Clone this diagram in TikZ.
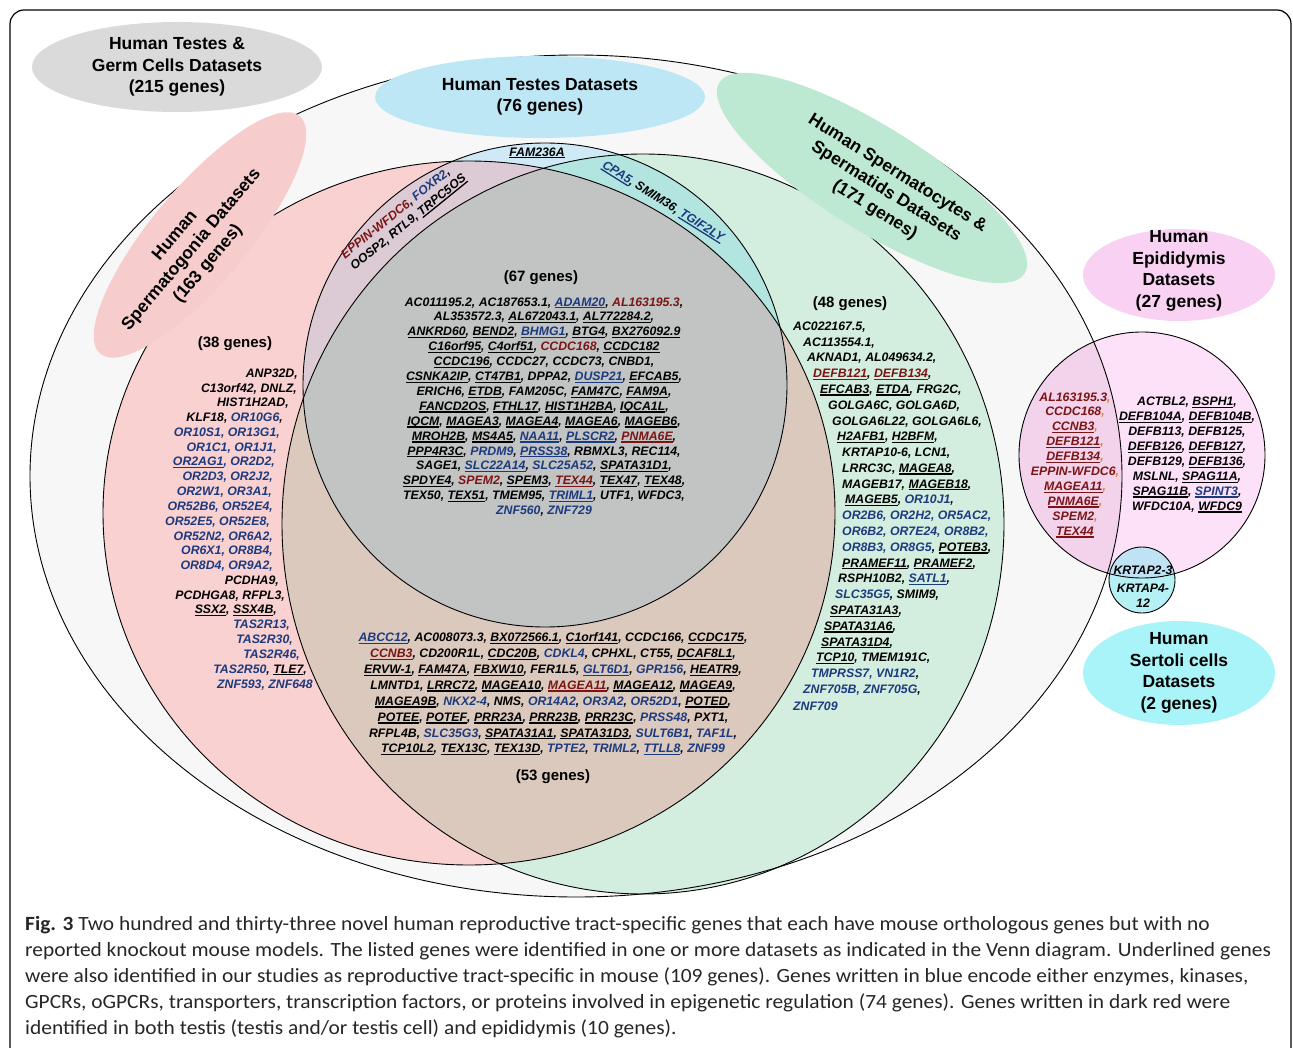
\documentclass[tikz,border=0pt]{standalone}
\usepackage{fontspec}
\setmainfont{Liberation Sans}
\newfontfamily\capfont[FakeStretch=1.06]{Carlito}
\usetikzlibrary{positioning}

\definecolor{genblue}{HTML}{1C3A7E}
\definecolor{genred}{HTML}{7B1414}
\definecolor{comorange}{HTML}{D9821E}
\definecolor{cout}{HTML}{F7F7F7}
\definecolor{cpink}{HTML}{F9D1D1}
\definecolor{cgreen}{HTML}{D3EEDF}
\definecolor{cbrown}{HTML}{DBC9BD}
\definecolor{cblue}{HTML}{CFEAF6}
\definecolor{cpurple}{HTML}{DCCBD5}
\definecolor{cteal}{HTML}{B2E4E0}
\definecolor{cgray}{HTML}{C2C3C3}
\definecolor{lgray}{HTML}{DADADA}
\definecolor{lblue}{HTML}{BEE7F6}
\definecolor{lgreen}{HTML}{BDE9D2}
\definecolor{lpink}{HTML}{F7CCCC}
\definecolor{lepi}{HTML}{F9D2F3}
\definecolor{cepi}{HTML}{FDE1F8}
\definecolor{cepiout}{HTML}{F3D3EC}
\definecolor{cser}{HTML}{B5F0F4}
\definecolor{cserepi}{HTML}{BFE3F4}
\definecolor{lser}{HTML}{A9F4F8}
\definecolor{captext}{HTML}{262626}

\newsavebox\ulbox
\newcommand\gul[1]{\sbox\ulbox{#1}\rlap{\rule[-2.4pt]{\wd\ulbox}{1.3pt}}\usebox\ulbox}
\newcommand\gb[1]{\textcolor{genblue}{#1}}
\newcommand\gr[1]{\textcolor{genred}{#1}}
\newcommand\oc{\textcolor{comorange}{,}}
\newcommand\genefont{\fontsize{12.3}{14.9}\selectfont\bfseries\itshape}
\newcommand\genefontb{\fontsize{12.3}{15.9}\selectfont\bfseries\itshape}
\newcommand\headfont{\fontsize{17.5}{21.5}\selectfont\bfseries}
\newcommand\countfont{\fontsize{15}{18}\selectfont\bfseries}

\begin{document}
\begin{tikzpicture}[x=1pt,y=-1pt,
    gene/.style={font=\genefont, inner sep=0pt, align=center},
    head/.style={font=\headfont, inner sep=0pt, align=center},
    count/.style={font=\countfont, inner sep=0pt},
    vennline/.style={draw=black, line width=0.9pt},
    outerset/.style={insert path={(576,476) ellipse [x radius=546, y radius=421]}},
    pinkset/.style={insert path={(469,513) ellipse [x radius=366, y radius=352]}},
    greenset/.style={insert path={(643,524) ellipse [x radius=361, y radius=370]}},
    blueset/.style={insert path={(545,385) circle [radius=242]}},
    episet/.style={insert path={(1142,455) circle [radius=123]}},
    serset/.style={insert path={(1142,580) circle [radius=33]}}]
  \useasboundingbox (0,0) rectangle (1293,1048);

  % frame
  \draw[line width=1.2pt, rounded corners=14pt] (10,1080) rectangle (1291,10);

  % label ellipse outside the big set
  \fill[lgray] (177,67) ellipse [x radius=145, y radius=45];

  % all reproductive sets
  \fill[cout, outerset];
  \fill[cepi, episet];
  \begin{scope}
    \clip[outerset];
    \fill[cepiout, episet];
  \end{scope}
  \fill[cser, serset];
  \begin{scope}
    \clip[episet];
    \fill[cserepi, serset];
  \end{scope}

  % testis sets
  \fill[cpink, pinkset];
  \fill[cgreen, greenset];
  \begin{scope}
    \clip[pinkset];
    \fill[cbrown, greenset];
  \end{scope}
  \fill[cblue, blueset];
  \begin{scope}
    \clip[blueset];
    \fill[cpurple, pinkset];
    \fill[cteal, greenset];
    \clip[pinkset];
    \fill[cgray, greenset];
  \end{scope}

  % outlines
  \draw[vennline, outerset];
  \draw[vennline, pinkset];
  \draw[vennline, greenset];
  \draw[vennline, blueset];
  \draw[vennline, episet];
  \draw[vennline, serset];

  % label ellipses
  \fill[lblue] (540,97) ellipse [x radius=165, y radius=41];
  \fill[lgreen, rotate around={-32:(872,178)}] (872,178) ellipse [x radius=180, y radius=52];
  \fill[lpink, rotate around={50:(200,235)}] (200,235) ellipse [x radius=155, y radius=48];
  \fill[lepi] (1179,275) ellipse [x radius=96, y radius=46];
  \fill[lser] (1179,673) ellipse [x radius=96, y radius=52];

  % headings
  \node[head] (hgerm) at (177,67) {Human Testes \&\\Germ Cells Datasets\\(215 genes)};
  \node[head] (htestes) at (540,97) {Human Testes Datasets\\(76 genes)};
  \node[head, rotate=-32] (hcyte) at (886,192) {Human Spermatocytes \&\\Spermatids Datasets\\(171 genes)};
  \node[head, rotate=50] (hgonia) at (192,250) {Human\\Spermatogonia Datasets\\(163 genes)};
  \node[head] (hepi) at (1179,271) {Human\\Epididymis\\Datasets\\(27 genes)};
  \node[head] (hser) at (1179,673) {Human\\Sertoli cells\\Datasets\\(2 genes)};

  % gene counts
  \node[count] (n38) at (235,344) {(38 genes)};
  \node[count] (n67) at (541,278) {(67 genes)};
  \node[count] (n48) at (850,304) {(48 genes)};
  \node[count] (n53) at (553,777) {(53 genes)};

  % testes only and two-set strips
  \node[gene] (gfam) at (537,153) {\gul{FAM236A}};
  \node[gene, align=left, rotate=39] (geppin) at (404,217)
    {\gr{EPPIN-WFDC6}, \gb{FOXR2},\\OOSP2, RTL9, \gul{TRPC5OS}};
  \node[gene, rotate=-32] (gcpa) at (663,202)
    {\gb{\gul{CPA5}}, SMIM36, \gb{\gul{TGIF2LY}}};

  % all three testis sets
  \node[gene] (gall) at (544,407) {%
    AC011195.2, AC187653.1, \gb{\gul{ADAM20}}, \gr{AL163195.3},\\
    AL353572.3, \gul{AL672043.1}, \gul{AL772284.2},\\
    \gul{ANKRD60}, \gul{BEND2}, \gb{\gul{BHMG1}}, \gul{BTG4}, \gul{BX276092.9}\\
    \gul{C16orf95}, \gul{C4orf51}, \gr{CCDC168}, \gul{CCDC182}\\
    \gul{CCDC196}, CCDC27, CCDC73, CNBD1,\\
    \gul{CSNKA2IP}, \gul{CT47B1}, DPPA2, \gb{\gul{DUSP21}}, \gul{EFCAB5},\\
    ERICH6, \gul{ETDB}, FAM205C, \gul{FAM47C}, \gul{FAM9A},\\
    \gul{FANCD2OS}, \gul{FTHL17}, \gul{HIST1H2BA}, \gul{IQCA1L},\\
    \gul{IQCM}, \gul{MAGEA3}, \gul{MAGEA4}, \gul{MAGEA6}, \gul{MAGEB6},\\
    \gul{MROH2B}, \gul{MS4A5}, \gb{\gul{NAA11}}, \gb{\gul{PLSCR2}}, \gr{\gul{PNMA6E}},\\
    \gul{PPP4R3C}, \gb{PRDM9}, \gb{\gul{PRSS38}}, RBMXL3, REC114,\\
    SAGE1, \gb{\gul{SLC22A14}}, \gb{SLC25A52}, \gul{SPATA31D1},\\
    \gul{SPDYE4}, \gr{SPEM2}, \gul{SPEM3}, \gr{\gul{TEX44}}, \gul{TEX47}, \gul{TEX48},\\
    TEX50, \gul{TEX51}, TMEM95, \gb{\gul{TRIML1}}, UTF1, WFDC3,\\
    \gb{ZNF560}, \gb{ZNF729}};

  % spermatogonia and spermatocytes
  \node[gene, font=\genefontb] (gboth) at (553,694) {%
    \gb{\gul{ABCC12}}, AC008073.3, \gul{BX072566.1}, \gul{C1orf141}, CCDC166, \gul{CCDC175},\\
    \gr{\gul{CCNB3}}, CD200R1L, \gul{CDC20B}, \gb{CDKL4}, CPHXL, CT55, \gul{DCAF8L1},\\
    \gul{ERVW-1}, \gul{FAM47A}, \gul{FBXW10}, FER1L5, \gb{\gul{GLT6D1}}, \gb{GPR156}, \gul{HEATR9},\\
    LMNTD1, \gul{LRRC72}, \gul{MAGEA10}, \gr{\gul{MAGEA11}}, \gul{MAGEA12}, \gul{MAGEA9},\\
    \gul{MAGEA9B}, \gb{NKX2-4}, NMS, \gb{OR14A2}, \gb{OR3A2}, \gb{OR52D1}, \gul{POTED},\\
    \gul{POTEE}, \gul{POTEF}, \gul{PRR23A}, \gul{PRR23B}, \gul{PRR23C}, \gb{PRSS48}, PXT1,\\
    RFPL4B, \gb{SLC35G3}, \gul{SPATA31A1}, \gul{SPATA31D3}, \gb{SULT6B1}, \gb{TAF1L},\\
    \gul{TCP10L2}, \gul{TEX13C}, \gul{TEX13D}, \gb{TPTE2}, \gb{TRIML2}, \gb{\gul{TTLL8}}, \gb{ZNF99}};

  % spermatogonia only
  \foreach \xx/\txt [count=\i] in {
      298/{ANP32D,}, 297/{C13orf42, DNLZ,}, 289/{HIST1H2AD,},
      283/{KLF18, \gb{OR10G6},}, 280/{\gb{OR10S1, OR13G1,}}, 277/{\gb{OR1C1, OR1J1,}},
      275/{\gb{\gul{OR2AG1}, OR2D2,}}, 273/{\gb{OR2D3, OR2J2,}}, 272/{\gb{OR2W1, OR3A1,}},
      273/{\gb{OR52B6, OR52E4,}}, 270/{\gb{OR52E5, OR52E8,}}, 273/{\gb{OR52N2, OR6A2,}},
      273/{\gb{OR6X1, OR8B4,}}, 273/{\gb{OR8D4, OR9A2,}}, 279/{PCDHA9,},
      285/{PCDHGA8, RFPL3,}, 277/{\gul{SSX2}, \gul{SSX4B},}, 290/{\gb{TAS2R13,}},
      293/{\gb{TAS2R30,}}, 300/{\gb{TAS2R46,}}, 307/{\gb{TAS2R50}, \gul{TLE7},},
      313/{\gb{ZNF593, ZNF648}}}
    \node[gene, anchor=east] (gsg\i) at (\xx,{359.2+14.8*\i}) {\txt};

  % spermatocytes only
  \foreach \xx/\txt [count=\i] in {
      793/{AC022167.5,}, 803/{AC113554.1,}, 807/{AKNAD1, AL049634.2,},
      813/{\gr{\gul{DEFB121}}, \gr{\gul{DEFB134}},}, 820/{\gul{EFCAB3}, \gul{ETDA}, FRG2C,},
      828/{GOLGA6C, GOLGA6D,}, 832/{GOLGA6L22, GOLGA6L6,}, 837/{\gul{H2AFB1}, \gul{H2BFM},},
      842/{KRTAP10-6, LCN1,}, 842/{LRRC3C, \gul{MAGEA8},}, 842/{MAGEB17, \gul{MAGEB18},},
      845/{\gul{MAGEB5}, \gb{OR10J1},}, 842/{\gb{OR2B6, OR2H2, OR5AC2,}},
      842/{\gb{OR6B2, OR7E24, OR8B2,}}, 842/{\gb{OR8B3, OR8G5}, \gul{POTEB3},},
      842/{\gul{PRAMEF11}, \gul{PRAMEF2},}, 838/{RSPH10B2, \gb{\gul{SATL1}},},
      835/{\gb{SLC35G5}, SMIM9,}, 830/{\gul{SPATA31A3},}, 824/{\gul{SPATA31A6},},
      821/{\gul{SPATA31D4},}, 816/{\gul{TCP10}, TMEM191C,}, 811/{\gb{TMPRSS7, VN1R2},},
      803/{\gb{ZNF705B, ZNF705G},}, 793/{\gb{ZNF709}}}
    \node[gene, anchor=west] (gsc\i) at (\xx,{311.2+15.8*\i}) {\txt};

  % epididymis
  \node[gene, text=genred] (gepiboth) at (1075,465) {%
    AL163195.3\oc\\ CCDC168\oc\\ \gul{CCNB3}\oc\\ \gul{DEFB121}\oc\\ \gul{DEFB134}\oc\\
    EPPIN-WFDC6\oc\\ \gul{MAGEA11}\oc\\ \gul{PNMA6E}\oc\\ SPEM2\oc\\ \gul{TEX44}};
  \node[gene] (gepi) at (1187,455) {%
    ACTBL2, \gul{BSPH1},\\ \gul{DEFB104A}, \gul{DEFB104B},\\ DEFB113, DEFB125,\\
    \gul{DEFB126}, \gul{DEFB127},\\ DEFB129, \gul{DEFB136},\\ MSLNL, \gul{SPAG11A},\\
    \gul{SPAG11B}, \gb{\gul{SPINT3}},\\ WFDC10A, \gul{WFDC9}};

  % sertoli
  \node[gene] (gkrt2) at (1143,570) {KRTAP2-3};
  \node[gene] (gkrt4) at (1143,596) {KRTAP4-\\12};

  % caption
  \foreach \txt [count=\i] in {
      {\textbf{Fig. 3} Two hundred and thirty-three novel human reproductive tract-specific genes that each have mouse orthologous genes but with no},
      {reported knockout mouse models. The listed genes were identified in one or more datasets as indicated in the Venn diagram. Underlined genes},
      {were also identified in our studies as reproductive tract-specific in mouse (109 genes). Genes written in blue encode either enzymes, kinases,},
      {GPCRs, oGPCRs, transporters, transcription factors, or proteins involved in epigenetic regulation (74 genes). Genes written in dark red were},
      {identified in both testis (testis and/or testis cell) and epididymis (10 genes).}}
    \node[anchor=west, inner sep=0pt, text=captext, font=\capfont\fontsize{20.2}{24}\selectfont]
      (cap\i) at (25,{899+26*\i}) {\txt};
\end{tikzpicture}
\end{document}
